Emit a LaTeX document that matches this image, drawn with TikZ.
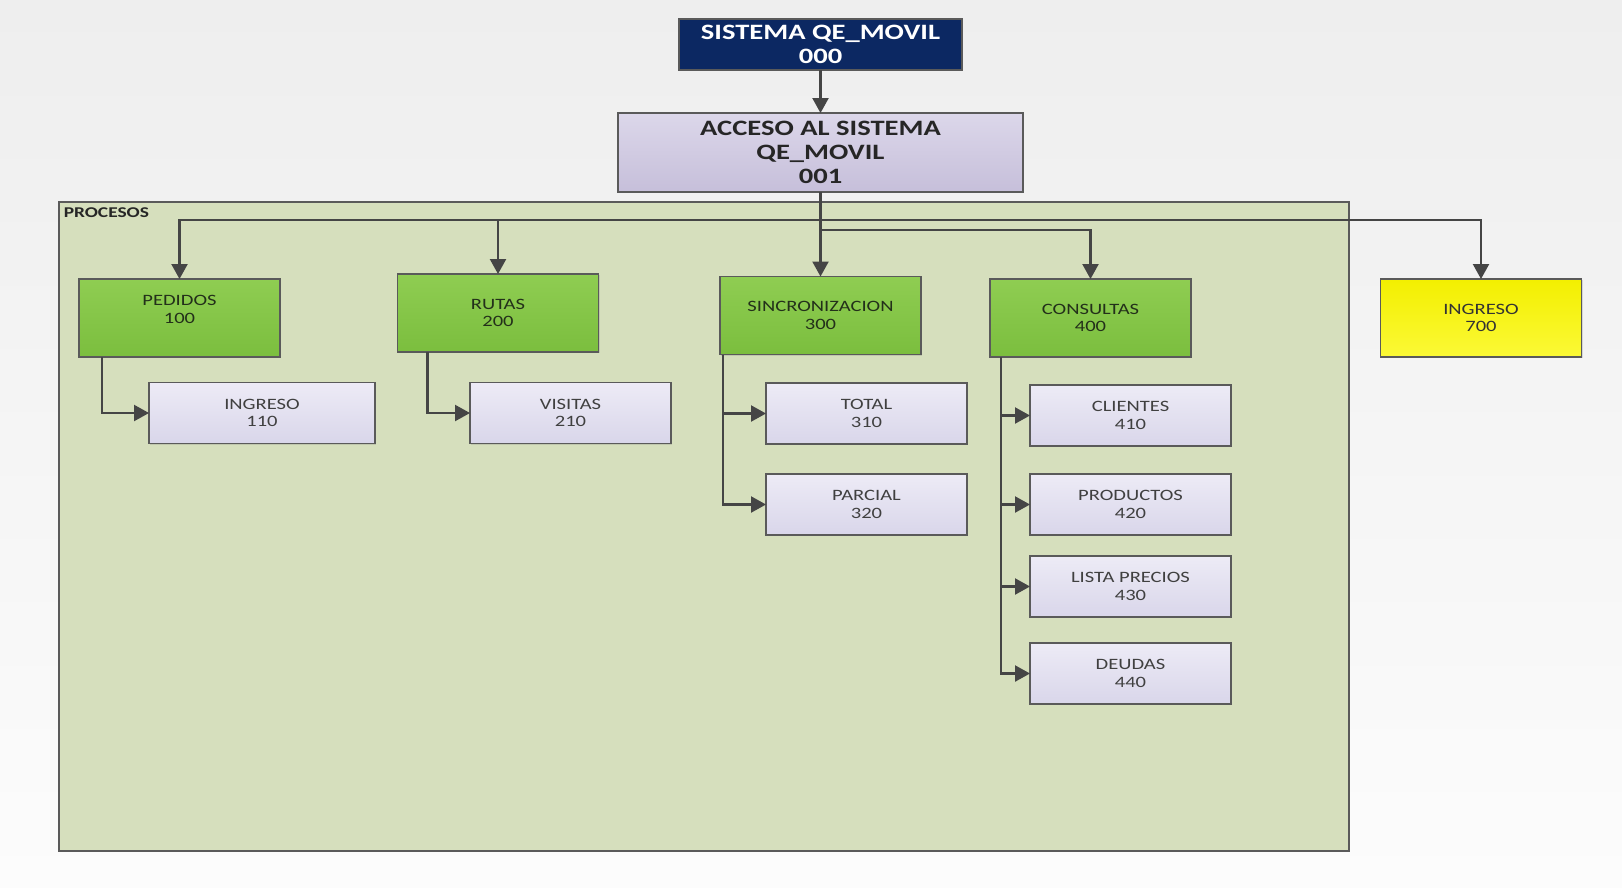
\documentclass[tikz,border=0pt]{standalone}
\usepackage{fontspec}
\setmainfont{Carlito}[FakeStretch=1.3]
\usetikzlibrary{arrows.meta,calc,shadows}

\definecolor{fondotop}{HTML}{EEEEEE}
\definecolor{fondobot}{HTML}{FCFCFC}
\definecolor{navy}{HTML}{0C2862}
\definecolor{lilatop}{HTML}{DCD7EA}
\definecolor{lilabot}{HTML}{C6BFDA}
\definecolor{subtop}{HTML}{EDEBF6}
\definecolor{subbot}{HTML}{D9D6EA}
\definecolor{verdetop}{HTML}{8FCD52}
\definecolor{verdebot}{HTML}{7BBE3E}
\definecolor{amartop}{HTML}{F3EF00}
\definecolor{amarbot}{HTML}{FBF936}
\definecolor{procfill}{HTML}{D6DFBD}
\definecolor{linea}{HTML}{454545}
\definecolor{borde}{HTML}{5A5A5A}
\definecolor{textoverde}{HTML}{23301A}

\begin{document}
\begin{tikzpicture}[x=0.02cm, y=-0.02cm,
    caja/.style={draw=borde, line width=0.8pt, inner sep=0pt, outer sep=0pt, align=center,
        drop shadow={shadow xshift=0.8pt, shadow yshift=-0.8pt, opacity=0.25}},
    raiz/.style={caja, fill=navy, text=white, font=\fontsize{12.5}{14}\selectfont\bfseries,
        minimum width=5.66cm, minimum height=1.02cm},
    acceso/.style={caja, top color=lilatop, bottom color=lilabot, text=black!85,
        font=\fontsize{12.5}{13.5}\selectfont\bfseries, minimum width=8.1cm, minimum height=1.58cm},
    proceso/.style={caja, top color=verdetop, bottom color=verdebot, text=textoverde,
        font=\fontsize{9}{10}\selectfont, minimum width=4.02cm, minimum height=1.56cm},
    ingreso/.style={proceso, top color=amartop, bottom color=amarbot, text=black!80},
    subcaja/.style={caja, top color=subtop, bottom color=subbot, text=black!75,
        font=\fontsize{9}{10}\selectfont, minimum width=4.02cm, minimum height=1.22cm},
    flecha/.style={draw=linea, line width=1.25pt, -{Triangle[length=0.3cm, width=0.32cm]}}
]
    % background
    \shade[top color=fondotop, bottom color=fondobot] (0,0) rectangle (1622,887);
    \useasboundingbox (0,0) rectangle (1622,887);

    % processes area
    \node[draw=borde, fill=procfill, line width=0.8pt, inner sep=0pt,
        minimum width=25.8cm, minimum height=12.98cm,
        drop shadow={shadow xshift=0.8pt, shadow yshift=-0.8pt, opacity=0.25}] (procesos) at (704,526.5) {};
    \node[anchor=north west, inner sep=0pt, font=\fontsize{8.5}{10}\selectfont\bfseries, text=black!85]
        (etiqueta) at ($(procesos.north west)+(5,6)$) {PROCESOS};

    % top levels
    \node[raiz] (sistema) at (820.5,44.5) {SISTEMA QE\_MOVIL\\000};
    \node[acceso] (acceso) at (820.5,152.5) {ACCESO AL SISTEMA\\QE\_MOVIL\\001};

    % modules
    \node[proceso] (pedidos) at (179.5,318) {PEDIDOS\\100\\[0pt]};
    \node[proceso] (rutas) at (498,313) {RUTAS\\200};
    \node[proceso] (sincro) at (820.5,315.5) {SINCRONIZACION\\300};
    \node[proceso] (consultas) at (1090.5,318) {CONSULTAS\\400};
    \node[ingreso] (ingreso) at (1481,318) {INGRESO\\700};

    % sub modules
    \node[subcaja, minimum width=4.52cm] (ingresoped) at (262,413) {INGRESO\\110};
    \node[subcaja] (visitas) at (570.5,413) {VISITAS\\210};
    \node[subcaja] (total) at (866.5,413.5) {TOTAL\\310};
    \node[subcaja] (parcial) at (866.5,504.5) {PARCIAL\\320};
    \node[subcaja] (clientes) at (1130.5,415.5) {CLIENTES\\410};
    \node[subcaja] (productos) at (1130.5,504.5) {PRODUCTOS\\420};
    \node[subcaja] (lista) at (1130.5,586.5) {LISTA PRECIOS\\430};
    \node[subcaja] (deudas) at (1130.5,673.5) {DEUDAS\\440};

    % draw connectors
    \coordinate (bus) at (820.5,220);
    \coordinate (bus2) at (820.5,230);
    \draw[flecha] (sistema) -- (acceso);
    \draw[flecha] (acceso.south) -- (sincro.north);
    \draw[flecha] (bus) -| (pedidos.north);
    \draw[flecha] (bus) -| (rutas.north);
    \draw[flecha] (bus) -| (ingreso.north);
    \draw[flecha] (bus2) -| (consultas.north);

    \draw[flecha] ($(pedidos.south west)+(23,0)$) |- (ingresoped.west);
    \draw[flecha] ($(rutas.south west)+(30,0)$) |- (visitas.west);
    \foreach \n in {total, parcial} {
        \draw[flecha] ($(sincro.south west)+(3,0)$) |- (\n.west);
    }
    \foreach \n in {clientes, productos, lista, deudas} {
        \draw[flecha] ($(consultas.south west)+(11,0)$) |- (\n.west);
    }
\end{tikzpicture}
\end{document}
